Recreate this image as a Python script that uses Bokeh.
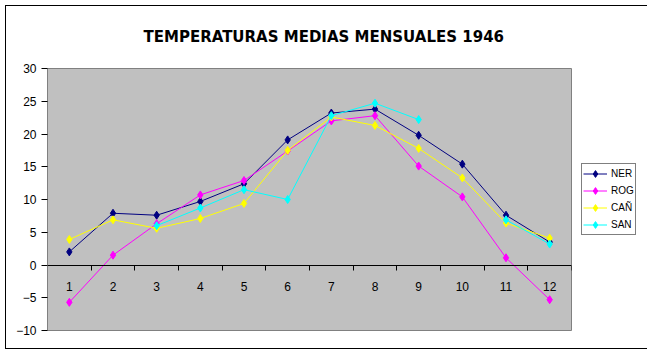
import math
from bokeh.plotting import figure
from bokeh.models import (ColumnDataSource, FixedTicker, Legend, LegendItem, Range1d,
                          LinearAxis, InlineStyleSheet)
from bokeh.embed import file_html
from bokeh.resources import INLINE

# ---- data ----
months = [1, 2, 3, 4, 5, 6, 7, 8, 9, 10, 11, 12]
ner = [2.0, 7.9, 7.6, 9.7, 12.4, 19.1, 23.2, 23.8, 19.8, 15.4, 7.6, 3.5]
rog = [-5.7, 1.5, 6.3, 10.7, 12.9, 17.4, 22.0, 22.8, 15.1, 10.4, 1.1, -5.3]
can = [3.9, 6.9, 5.6, 7.1, 9.4, 17.5, 22.6, 21.3, 17.8, 13.3, 6.4, 4.1]
san = [math.nan, math.nan, 6.0, 8.7, 11.5, 10.0, 22.8, 24.7, 22.2, math.nan, 6.9, 3.2]
series_names = ["NER", "ROG", "CAÑ", "SAN"]
series_values = [ner, rog, can, san]
series_colors = ["#000080", "#FF00FF", "#FFFF00", "#00FFFF"]
y_ticks = [-10, -5, 0, 5, 10, 15, 20, 25, 30]
title_text = "TEMPERATURAS MEDIAS MENSUALES 1946"

FONT = "Liberation Sans"

border_css = InlineStyleSheet(css=":host { outline: 1px solid black; outline-offset: -6px; background: white; }")

p = figure(
    frame_width=524, frame_height=262,
    x_range=Range1d(0.5, 12.5), y_range=Range1d(-10, 30),
    output_backend="svg", toolbar_location=None,
    x_axis_type=None, y_axis_type=None,
    min_border_left=47, min_border_right=0, min_border_top=68, min_border_bottom=24,
    background_fill_color="#C0C0C0",
    stylesheets=[border_css],
)
p.border_fill_alpha = 0
p.outline_line_color = "#808080"
p.outline_line_width = 1

# title
p.title.text = title_text
p.title.align = "left"
p.title.offset = 96
p.title.text_font = "DejaVu Sans"
p.title.text_font_style = "bold"
p.title.text_font_size = "15px"
p.title.text_color = "black"
p.title.standoff = 46

# y axis
yaxis = LinearAxis(ticker=FixedTicker(ticks=y_ticks))
yaxis.major_label_text_font = FONT
yaxis.major_label_text_font_size = "12px"
yaxis.major_label_text_color = "black"
yaxis.major_tick_out = 6
yaxis.major_tick_in = 0
yaxis.minor_tick_out = 0
yaxis.minor_tick_in = 0
yaxis.major_label_standoff = 5
yaxis.axis_line_color = "#808080"
yaxis.major_tick_line_color = "black"
p.add_layout(yaxis, "left")

# x axis at y = 0
xaxis = LinearAxis(ticker=FixedTicker(ticks=months,
                                      minor_ticks=[m - 0.5 for m in months] + [12.5]))
xaxis.fixed_location = 0
xaxis.major_label_text_font = FONT
xaxis.major_label_text_font_size = "12px"
xaxis.major_label_text_color = "black"
xaxis.major_tick_out = 0
xaxis.major_tick_in = 0
xaxis.minor_tick_out = 5
xaxis.minor_tick_in = 0
xaxis.minor_tick_line_color = "black"
xaxis.major_label_standoff = 12
xaxis.axis_line_color = "black"
p.add_layout(xaxis, "below")

# horizontal gridlines
for g in p.grid:
    if g.dimension == 1:
        g.ticker = FixedTicker(ticks=[t for t in y_ticks if -10 < t < 30])
        g.grid_line_color = "black"
        g.grid_line_width = 1
    else:
        g.visible = False

items = []
for name, vals, col in zip(series_names, series_values, series_colors):
    src = ColumnDataSource(dict(x=months, y=vals))
    ln = p.line("x", "y", source=src, line_color=col, line_width=1)
    mk = p.scatter("x", "y", source=src, marker="diamond", size=8,
                   fill_color=col, line_color=col)
    items.append(LegendItem(label=name, renderers=[ln, mk]))

legend = Legend(items=items, location="center_left")
legend.label_text_font = FONT
legend.label_text_font_size = "10px"
legend.label_text_color = "black"
legend.glyph_width = 24
legend.glyph_height = 17
legend.label_height = 17
legend.label_standoff = 4
legend.spacing = 0
legend.padding = 1
legend.margin = 10
legend.border_line_color = "black"
legend.border_line_width = 1
legend.background_fill_color = "white"
legend.background_fill_alpha = 1
p.add_layout(legend, "right")

open("out.html", "w").write(file_html(p, INLINE))
